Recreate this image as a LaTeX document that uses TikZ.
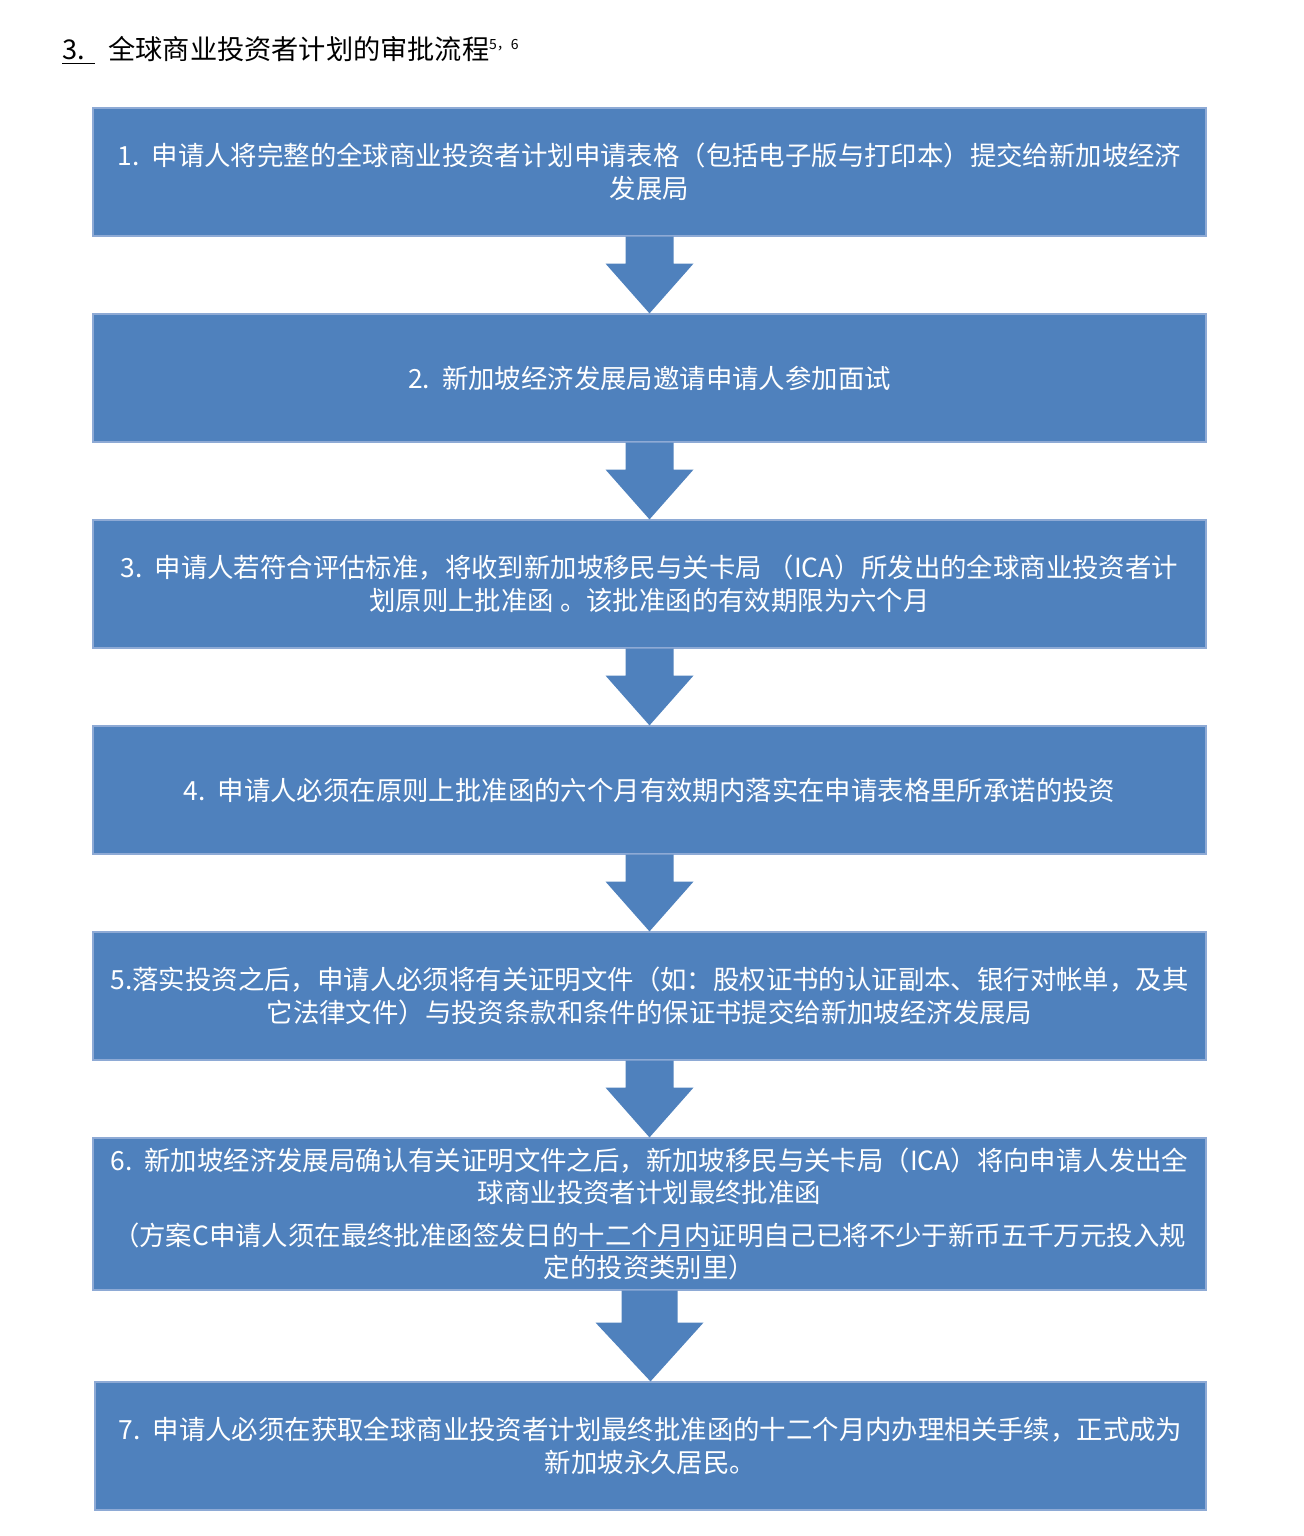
\documentclass[tikz,border=0pt]{standalone}
\usepackage{fontspec}
\setmainfont{Noto Sans CJK SC}
\usetikzlibrary{calc}
\definecolor{boxblue}{HTML}{4F81BD}
\definecolor{boxedge}{HTML}{8EAAD5}
\newcommand\blockarr[5]{%
  \fill[blockarrow] ($(#1.south)+(-#3,0)$) -- ($(#1.south)+(#3,0)$) -- ($(#1.south)+(#3,#5)$) -- ($(#1.south)+(#4,#5)$) -- (#2.north) -- ($(#1.south)+(-#4,#5)$) -- ($(#1.south)+(-#3,#5)$) -- cycle;}
\begin{document}
\begin{tikzpicture}[x=0.5pt,y=-0.5pt,
  stepbox/.style={fill=boxblue,draw=boxedge,line width=0.6pt,minimum width=556.5pt,minimum height=64pt,inner sep=0pt,text=white,align=center,font=\fontsize{13.2}{16.25}\selectfont},
  blockarrow/.style={fill=boxblue,draw=none},
  titletext/.style={anchor=base west,inner sep=0pt,text=black,font=\fontsize{13.6}{16}\selectfont}]
\useasboundingbox (0,0) rectangle (1304,1536);
\node[titletext] (num) at (62,60) {\underline{3.\hspace{5pt}}};
\node[titletext] (title) at (108,60) {全球商业投资者计划的审批流程\textsuperscript{\fontsize{7}{8}\selectfont 5，6}};
\node[stepbox] (b1) at (649.5,172) {1.\ \ 申请人将完整的全球商业投资者计划申请表格（包括电子版与打印本）提交给新加坡经济\\发展局};
\node[stepbox] (b2) at (649.5,378) {2.\ \ 新加坡经济发展局邀请申请人参加面试};
\node[stepbox] (b3) at (649.5,584) {3.\ \ 申请人若符合评估标准，将收到新加坡移民与关卡局 （ICA）所发出的全球商业投资者计\\划原则上批准函 。该批准函的有效期限为六个月};
\node[stepbox] (b4) at (649.5,790) {4.\ \ 申请人必须在原则上批准函的六个月有效期内落实在申请表格里所承诺的投资};
\node[stepbox] (b5) at (649.5,996) {5.落实投资之后，申请人必须将有关证明文件（如：股权证书的认证副本、银行对帐单，及其\\它法律文件）与投资条款和条件的保证书提交给新加坡经济发展局};
\node[stepbox,minimum height=76pt] (b6) at (649.5,1214) {6.\ \ 新加坡经济发展局确认有关证明文件之后，新加坡移民与关卡局（ICA）将向申请人发出全\\球商业投资者计划最终批准函\\[5pt]（方案C申请人须在最终批准函签发日的\underline{十二个月内}证明自己已将不少于新币五千万元投入规\\定的投资类别里）};
\node[stepbox,minimum width=555.5pt] (b7) at (650.5,1446) {7.\ \ 申请人必须在获取全球商业投资者计划最终批准函的十二个月内办理相关手续，正式成为\\新加坡永久居民。};
\blockarr{b1}{b2}{24}{44}{27}
\blockarr{b2}{b3}{24}{44}{27}
\blockarr{b3}{b4}{24}{44}{27}
\blockarr{b4}{b5}{24}{44}{27}
\blockarr{b5}{b6}{24}{44}{27}
\blockarr{b6}{b7}{28}{54}{32}
\end{tikzpicture}
\end{document}
